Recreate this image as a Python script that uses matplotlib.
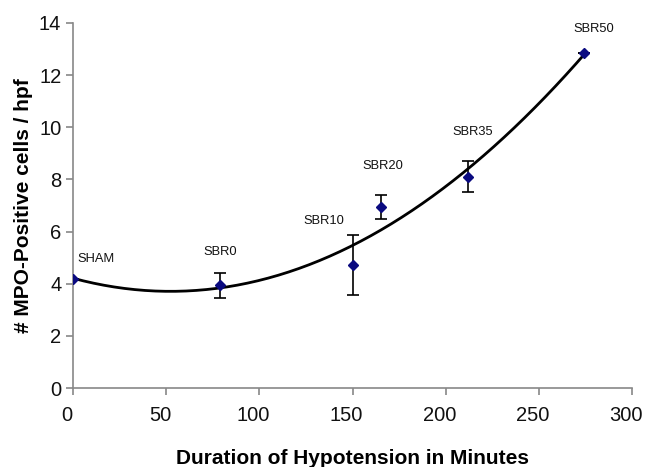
import matplotlib.pyplot as plt
import matplotlib.transforms as mtransforms
import numpy as np

plt.rcParams['font.family'] = ['Liberation Sans', 'DejaVu Sans']

groups = ['SHAM', 'SBR0', 'SBR10', 'SBR20', 'SBR35', 'SBR50']
minutes = [0, 79, 150, 165, 212, 274]
mpo = [4.18, 3.95, 4.73, 6.95, 8.1, 12.84]
err = [0.0, 0.48, 1.15, 0.45, 0.6, 0.0]

fig = plt.figure(figsize=(6.47, 4.67), dpi=100)
ax = fig.add_axes([0.113, 0.169, 0.864, 0.782])

# second order trend line, like the spreadsheet one
coef = np.polyfit(minutes, mpo, 2)
xs = np.linspace(0, max(minutes), 200)
ax.plot(xs, np.polyval(coef, xs), color='black', lw=2, zorder=2)

ax.errorbar(minutes, mpo, yerr=err, fmt='none', ecolor='black',
            elinewidth=1.2, capsize=4, capthick=1.2, zorder=3)
ax.plot(minutes, mpo, 'D', color='#0a0a80', ms=5, zorder=4)

# label offsets in pixels (dx, dy, ha)
offs = [(4, 20, 'left'), (0, 33, 'center'), (-29, 44, 'center'),
        (2, 41, 'center'), (5, 45, 'center'), (10, 24, 'center')]
for g, x, y, (dx, dy, ha) in zip(groups, minutes, mpo, offs):
    ax.annotate(g, (x, y), xytext=(dx, dy), textcoords='offset pixels',
                ha=ha, va='center', fontsize=9.3, color='#111111')

ax.set_xlim(0, 300)
ax.set_ylim(0, 14)
ax.set_xticks(range(0, 301, 50))
ax.set_yticks(range(0, 15, 2))
for s in ['top', 'right']:
    ax.spines[s].set_visible(False)
for s in ['left', 'bottom']:
    ax.spines[s].set_color('#888888')
    ax.spines[s].set_linewidth(1.2)
ax.tick_params(colors='#888888', labelcolor='#111111', labelsize=14.5,
               length=5, width=1.2)
ax.tick_params(axis='x', pad=8)
# x tick labels sit a little left of their ticks in the original
shift = mtransforms.ScaledTranslation(-6 / 100, 0, fig.dpi_scale_trans)
for lab in ax.get_xticklabels():
    lab.set_transform(lab.get_transform() + shift)

ax.set_xlabel('Duration of Hypotension in Minutes', fontsize=15,
              fontweight='bold', labelpad=17)
ax.set_ylabel('# MPO-Positive cells / hpf', fontsize=15,
              fontweight='bold', labelpad=4)

fig.savefig('out.png', dpi=100)
